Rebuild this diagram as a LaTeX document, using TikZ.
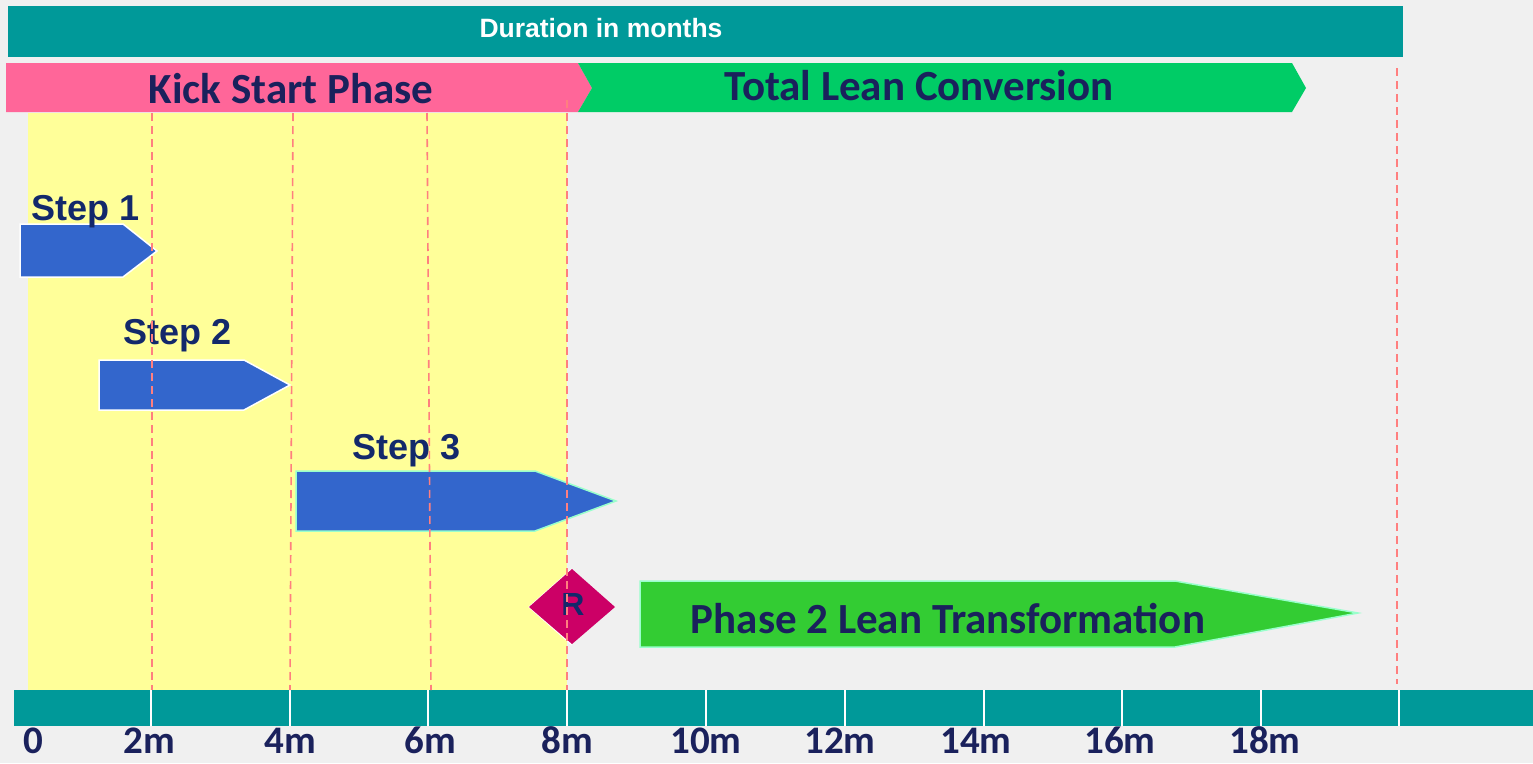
\documentclass[tikz,border=0pt]{standalone}
\usepackage{fontspec}
\setmainfont{Liberation Sans}
\newfontfamily\carlitofont{Carlito}
\definecolor{bg}{HTML}{F0F0F0}
\definecolor{tealbar}{HTML}{009999}
\definecolor{pinkbar}{HTML}{FF6699}
\definecolor{greenbar}{HTML}{00CC66}
\definecolor{yel}{HTML}{FFFF99}
\definecolor{dashc}{HTML}{FF7F7F}
\definecolor{navy}{HTML}{13296B}
\definecolor{navyc}{HTML}{1A215C}
\definecolor{stepblue}{HTML}{3366CC}
\definecolor{aqua}{HTML}{99FFCC}
\definecolor{diam}{HTML}{CC0066}
\definecolor{ph2}{HTML}{33CC33}
\begin{document}
\begin{tikzpicture}[x=1pt,y=-1pt,
  bigtxt/.style={font=\carlitofont\bfseries\fontsize{43}{43}\selectfont, text=navyc, inner sep=0pt, anchor=base},
  steptxt/.style={font=\bfseries\fontsize{36}{36}\selectfont, text=navy, inner sep=0pt, anchor=base west},
  axtxt/.style={font=\carlitofont\bfseries\fontsize{39}{39}\selectfont, text=navyc, inner sep=0pt, anchor=base},
  vline/.style={draw=dashc, line width=1.6pt, dash pattern=on 8pt off 5pt},
  stepbox/.style={fill=stepblue, draw=white, line width=1.5pt, line join=miter},
  tick/.style={draw=white, line width=2pt}]
\useasboundingbox (0,0) rectangle (1533,763);
\fill[bg] (0,0) rectangle (1533,763);
% top bar
\fill[tealbar] (8,6) rectangle (1403,57);
\node[font=\bfseries\fontsize{26.5}{26.5}\selectfont, text=white, inner sep=0pt, anchor=base] (dur) at (601,37) {Duration in months};
% phase bars
\fill[pinkbar] (6,63) -- (578,63) -- (592,88) -- (578,112) -- (6,112) -- cycle;
\fill[greenbar] (578,63) -- (1292,63) -- (1306,88) -- (1292,112) -- (578,112) -- (592,88) -- cycle;
\node[bigtxt] (kick) at (291,103) {Kick Start Phase};
\node[bigtxt] (tlc) at (919,100) {Total Lean Conversion};
% yellow region
\fill[yel] (28,113) rectangle (567,690);
% axis bar
\fill[tealbar] (14,690) rectangle (1533,726);
\foreach \x in {151,290,428,567,706,845,984,1122,1261,1399}
  \draw[tick] (\x,690) -- (\x,726);
\node[axtxt] (a0) at (33,753) {0};
\node[axtxt] (a2) at (149,753) {2m};
\node[axtxt] (a4) at (290,753) {4m};
\node[axtxt] (a6) at (430,753) {6m};
\node[axtxt] (a8) at (567,753) {8m};
\node[axtxt] (a10) at (706,753) {10m};
\node[axtxt] (a12) at (840,753) {12m};
\node[axtxt] (a14) at (976,753) {14m};
\node[axtxt] (a16) at (1120,753) {16m};
\node[axtxt] (a18) at (1265,753) {18m};
% steps
\filldraw[stepbox] (20,224) -- (123,224) -- (157,251) -- (123,277) -- (20,277) -- cycle;
\node[steptxt] (s1) at (31,220) {Step 1};
\filldraw[stepbox] (99,360) -- (244,360) -- (290,385) -- (244,410) -- (99,410) -- cycle;
\node[steptxt] (s2) at (123,344) {Step 2};
\filldraw[stepbox, draw=aqua] (296,471) -- (535,471) -- (616,501) -- (535,531) -- (296,531) -- cycle;
\node[steptxt] (s3) at (352,459) {Step 3};
% diamond R
\draw[white, line width=1.2pt] (529,607) -- (572,569) (529,607) -- (572,645);
\fill[diam] (572,569) -- (615,607) -- (572,644) -- (529,607) -- cycle;
\node[font=\bfseries\fontsize{32}{32}\selectfont, text=navy, inner sep=0pt, anchor=base] (r) at (573,615) {R};
% phase 2
\filldraw[fill=ph2, draw=aqua, line width=1.5pt] (640,581) -- (1175,581) -- (1358,613) -- (1175,647) -- (640,647) -- cycle;
\node[bigtxt] (p2) at (948,633) {Phase 2 Lean Transformation};
% dashed lines (on top)
\draw[vline] (152,113) -- (152,690);
\draw[vline] (293,113) -- (290,690);
\draw[vline] (427,113) -- (431,690);
\draw[vline] (567,100) -- (567,690);
\draw[vline] (1397,68) -- (1397,684);
\end{tikzpicture}
\end{document}
